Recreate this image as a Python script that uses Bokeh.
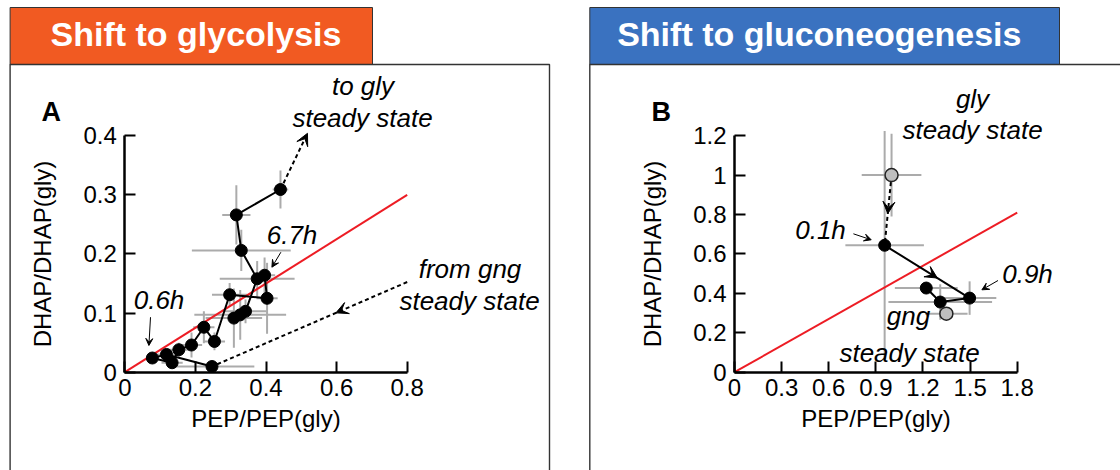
from bokeh.plotting import figure
from bokeh.models import Range1d, LinearAxis, FixedTicker, Arrow, VeeHead
from bokeh.layouts import row
from bokeh.embed import file_html
from bokeh.resources import INLINE
from bokeh.core.properties import value

# ======================= DATA =======================
# Panel A - shift to glycolysis (trajectory, measurement order)
a_pep = [0.247, 0.118, 0.078, 0.134, 0.153, 0.189, 0.224, 0.254, 0.297,
         0.403, 0.396, 0.375, 0.342, 0.327, 0.309, 0.330, 0.316, 0.441]
a_dhap = [0.0096, 0.030, 0.024, 0.016, 0.038, 0.046, 0.076, 0.052, 0.131,
          0.125, 0.164, 0.158, 0.103, 0.097, 0.0915, 0.206, 0.266, 0.309]
a_pep_err = [0.12, 0.03, 0.015, 0.03, 0.03, 0.03, 0.03, 0.03, 0.05,
             0.03, 0.03, 0.106, 0.06, 0.13, 0.08, 0.14, 0.04, 0.022]
a_dhap_err = [0.008, 0.01, 0.006, 0.01, 0.012, 0.021, 0.027, 0.015, 0.02,
              0.06, 0.03, 0.03, 0.02, 0.042, 0.05, 0.035, 0.05, 0.032]
a_path_early = list(range(0, 15))
a_path_late = [11, 15, 16, 17]
a_xticks = [0, 0.2, 0.4, 0.6, 0.8]
a_xtick_labels = ["0", "0.2", "0.4", "0.6", "0.8"]
a_yticks = [0, 0.1, 0.2, 0.3, 0.4]
a_ytick_labels = ["0", "0.1", "0.2", "0.3", "0.4"]
a_ref_x = [0, 0.8]
a_ref_y = [0, 0.30]
a_gly_target = (0.5175, 0.404)   # dashed arrow toward gly steady state
a_gng_source = (0.80, 0.1525)    # dashed arrow from gng steady state

# Panel B - shift to gluconeogenesis
b_ss_pep = [1.00, 1.349]         # steady states: gly, gng (grey)
b_ss_dhap = [1.00, 0.297]
b_ss_pep_err = [0.19, 0.135]
b_ss_dhap_err = [0.21, 0.03]
b_pep = [0.956, 1.497, 1.310, 1.221]   # 0.1h, 0.9h, later
b_dhap = [0.644, 0.376, 0.356, 0.427]
b_pep_err = [0.25, 0.17, 0.33, 0.20]
b_dhap_err = [0.58, 0.085, 0.09, 0.03]
b_xticks = [0, 0.3, 0.6, 0.9, 1.2, 1.5, 1.8]
b_xtick_labels = ["0", "0.3", "0.6", "0.9", "1.2", "1.5", "1.8"]
b_yticks = [0, 0.2, 0.4, 0.6, 0.8, 1.0, 1.2]
b_ytick_labels = ["0", "0.2", "0.4", "0.6", "0.8", "1", "1.2"]
b_ref_x = [0, 1.8]
b_ref_y = [0, 0.81]

# ======================= STYLE / LAYOUT =======================
FONT = value("Liberation Sans")
RED = "#ED1C24"
GREY = "#ABABAB"
ORANGE = "#F15A22"
BLUE = "#3A72C0"
H = 470
TOP = 0


def data_range(d0, p0, d1, p1, lo_px, hi_px):
    k = (d1 - d0) / (p1 - p0)
    return d0 + (lo_px - p0) * k, d0 + (hi_px - p0) * k


def make_fig(left_px, width, xcal, ycal):
    xr = data_range(*xcal, left_px, left_px + width)
    yr = data_range(*ycal, TOP + H, TOP)
    p = figure(width=width, height=H, x_range=Range1d(*xr), y_range=Range1d(*yr),
               output_backend="svg", toolbar_location=None,
               x_axis_type=None, y_axis_type=None, title=None,
               min_border_left=0, min_border_right=0,
               min_border_top=0, min_border_bottom=0)
    p.extra_x_ranges = {"px": Range1d(left_px, left_px + width)}
    p.extra_y_ranges = {"px": Range1d(TOP + H, TOP)}
    p.outline_line_color = None
    p.background_fill_color = "white"
    p.border_fill_color = "white"
    return p


def add_axes(p, xt, xl, yt, yl):
    common = dict(axis_line_width=2.5, axis_line_color="black",
                  major_tick_in=11, major_tick_out=0, major_tick_line_width=2,
                  major_tick_line_color="black", minor_tick_line_color=None,
                  major_label_text_font="Liberation Sans",
                  major_label_text_font_size="24px",
                  major_label_text_color="black",
                  axis_label_text_font="Liberation Sans",
                  axis_label_text_font_size="24px",
                  axis_label_text_font_style="normal",
                  axis_label_text_color="black")
    xa = LinearAxis(fixed_location=0, bounds=(xt[0], xt[-1]),
                    ticker=FixedTicker(ticks=xt),
                    major_label_overrides=dict(zip(xt, xl)),
                    axis_label="PEP/PEP(gly)", major_label_standoff=7,
                    axis_label_standoff=5, **common)
    p.add_layout(xa, "below")
    ya = LinearAxis(fixed_location=0, bounds=(yt[0], yt[-1]),
                    ticker=FixedTicker(ticks=yt),
                    major_label_overrides=dict(zip(yt, yl)),
                    axis_label="DHAP/DHAP(gly)", major_label_standoff=8,
                    axis_label_standoff=24, **common)
    p.add_layout(ya, "left")


def errorbars(p, xs, ys, xe, ye):
    p.segment(x0=[x - e for x, e in zip(xs, xe)], y0=ys,
              x1=[x + e for x, e in zip(xs, xe)], y1=ys,
              line_color=GREY, line_width=2)
    p.segment(x0=xs, y0=[y - e for y, e in zip(ys, ye)],
              x1=xs, y1=[y + e for y, e in zip(ys, ye)],
              line_color=GREY, line_width=2)


def head_arrow(p, x0, y0, x1, y1, size=12, shaft=None, width=2, dash="solid", px=False):
    kw = dict(x_range_name="px", y_range_name="px") if px else {}
    p.add_layout(Arrow(end=VeeHead(size=size, fill_color="black", line_color="black",
                                   line_width=1),
                       x_start=x0, y_start=y0, x_end=x1, y_end=y1,
                       line_color=shaft, line_width=width, line_dash=dash, **kw))


def texts(p, xs, baselines, labels, size=26, style="italic", color="black", align="center"):
    # the rendered baseline sits ~0.385 em below the anchor, so lift the anchor
    ys = [b - 0.385 * size for b in baselines]
    p.text(x=xs, y=ys, text=labels, x_range_name="px", y_range_name="px",
           text_font=FONT, text_font_size=f"{size}px", text_font_style=style,
           text_color=color, text_align=align, text_baseline="alphabetic")


def decorations(p, box_left, box_right, banner_right, banner_color, title, title_x):
    p.quad(left=[box_left], right=[banner_right], top=[7], bottom=[64],
           x_range_name="px", y_range_name="px",
           fill_color=banner_color, line_color="#333333", line_width=1)
    if box_right is None:
        p.line(x=[box_left, box_left, 1125], y=[475, 64, 64],
               x_range_name="px", y_range_name="px", line_color="#333333", line_width=1.4)
    else:
        p.line(x=[box_left, box_left, box_right, box_right], y=[475, 64, 64, 475],
               x_range_name="px", y_range_name="px", line_color="#333333", line_width=1.4)
    texts(p, [title_x], [47], [title], size=34, style="bold", color="white")


# ======================= PANEL A =======================
pa = make_fig(0, 560, (0, 124.3, 0.8, 406.7), (0, 371.7, 0.4, 135.2))
decorations(pa, 9.6, 549, 372, ORANGE, "Shift to glycolysis", 195.5)
errorbars(pa, a_pep, a_dhap, a_pep_err, a_dhap_err)
pa.line(a_ref_x, a_ref_y, line_color=RED, line_width=2)
pa.multi_line(xs=[[a_pep[i] for i in a_path_early], [a_pep[i] for i in a_path_late]],
              ys=[[a_dhap[i] for i in a_path_early], [a_dhap[i] for i in a_path_late]],
              line_color="black", line_width=2)
# dashed: from gng steady state into first point
pa.line([a_gng_source[0], a_pep[0]], [a_gng_source[1], a_dhap[0]],
        line_color="black", line_width=2, line_dash="4 3")
t = 0.365
head_arrow(pa, a_gng_source[0], a_gng_source[1],
           a_gng_source[0] + t * (a_pep[0] - a_gng_source[0]),
           a_gng_source[1] + t * (a_dhap[0] - a_gng_source[1]))
# dashed: last point toward gly steady state
head_arrow(pa, a_pep[-1], a_dhap[-1], a_gly_target[0], a_gly_target[1],
           shaft="black", dash="4 3")
pa.scatter(a_pep, a_dhap, size=12, marker="circle", fill_color="black", line_color="black")
add_axes(pa, a_xticks, a_xtick_labels, a_yticks, a_ytick_labels)
texts(pa, [41], [122], ["A"], size=27, style="bold", align="left")
texts(pa, [362.5, 362, 291.5, 469.5, 469, 158.5], [95.5, 127.5, 245, 279, 311, 310],
      ["to gly", "steady state", "6.7h", "from gng", "steady state", "0.6h"])
head_arrow(pa, 280.4, 251.7, 271.4, 266.7, size=7, shaft="black", width=1, px=True)
head_arrow(pa, 150, 316.7, 148.4, 345, size=7, shaft="black", width=1, px=True)

# ======================= PANEL B =======================
pb = make_fig(560, 560, (0, 734, 1.8, 1016.7), (0, 371.7, 1.2, 135.2))
decorations(pb, 589.3, None, 1059, BLUE, "Shift to gluconeogenesis", 818.8)
errorbars(pb, b_ss_pep, b_ss_dhap, b_ss_pep_err, b_ss_dhap_err)
errorbars(pb, b_pep, b_dhap, b_pep_err, b_dhap_err)
pb.line(b_ref_x, b_ref_y, line_color=RED, line_width=2)
pb.line([b_ss_pep[0], b_pep[0]], [b_ss_dhap[0], b_dhap[0]],
        line_color="black", line_width=2, line_dash="4 3")
t = 0.55
head_arrow(pb, b_ss_pep[0], b_ss_dhap[0],
           b_ss_pep[0] + t * (b_pep[0] - b_ss_pep[0]),
           b_ss_dhap[0] + t * (b_dhap[0] - b_ss_dhap[0]))
pb.line(b_pep, b_dhap, line_color="black", line_width=2)
t = 0.62
head_arrow(pb, b_pep[0], b_dhap[0],
           b_pep[0] + t * (b_pep[1] - b_pep[0]),
           b_dhap[0] + t * (b_dhap[1] - b_dhap[0]))
pb.scatter(b_pep, b_dhap, size=12, marker="circle", fill_color="black", line_color="black")
pb.scatter(b_ss_pep, b_ss_dhap, size=13, marker="circle", fill_color="#BEBEBE",
           line_color="#222222", line_width=1.5)
add_axes(pb, b_xticks, b_xtick_labels, b_yticks, b_ytick_labels)
texts(pb, [651], [121.7], ["B"], size=27, style="bold", align="left")
texts(pb, [972, 972, 820, 1027, 908, 909], [109, 139.5, 240, 283.5, 326, 363],
      ["gly", "steady state", "0.1h", "0.9h", "gng", "steady state"])
head_arrow(pb, 852.9, 233.3, 870.7, 239.3, size=7, shaft="black", width=1, px=True)
head_arrow(pb, 997.5, 280, 981.4, 289.3, size=7, shaft="black", width=1, px=True)

layout = row(pa, pb)
open("out.html", "w").write(file_html(layout, INLINE))
